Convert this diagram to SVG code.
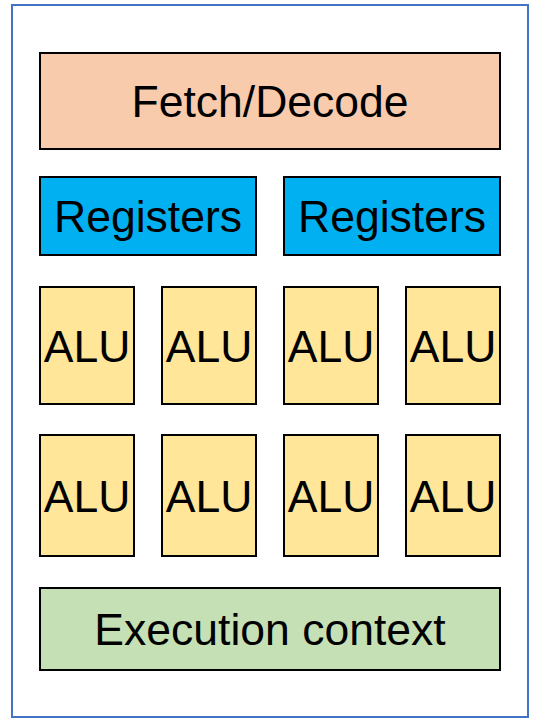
<svg xmlns="http://www.w3.org/2000/svg" width="538" height="724" viewBox="0 0 538 724">
<style>
.box{stroke:#000;stroke-width:2}
.t{font-family:"Liberation Sans",Arial,sans-serif;font-size:44.5px;fill:#000;text-anchor:middle}
.fd{fill:#F8CBAD}.rg{fill:#00B0F0}.alu{fill:#FFE699}.ex{fill:#C5E0B4}
</style>
<rect width="538" height="724" fill="#fff"/>
<g id="frame"><rect x="12" y="5" width="516" height="712" fill="#fff" stroke="#4472C4" stroke-width="2"/></g>
<g id="fetch"><rect class="box fd" x="40" y="53" width="460" height="96"/><text class="t" x="270" y="117">Fetch/Decode</text></g>
<g id="reg1"><rect class="box rg" x="40" y="177" width="216" height="78"/><text class="t" x="148" y="232">Registers</text></g>
<g id="reg2"><rect class="box rg" x="284" y="177" width="216" height="78"/><text class="t" x="392" y="232">Registers</text></g>
<g id="alu1"><rect class="box alu" x="40" y="287" width="94" height="117"/><text class="t" x="87" y="362">ALU</text></g>
<g id="alu2"><rect class="box alu" x="162" y="287" width="94" height="117"/><text class="t" x="209" y="362">ALU</text></g>
<g id="alu3"><rect class="box alu" x="284" y="287" width="94" height="117"/><text class="t" x="331" y="362">ALU</text></g>
<g id="alu4"><rect class="box alu" x="406" y="287" width="94" height="117"/><text class="t" x="453" y="362">ALU</text></g>
<g id="alu5"><rect class="box alu" x="40" y="435" width="94" height="121"/><text class="t" x="87" y="512">ALU</text></g>
<g id="alu6"><rect class="box alu" x="162" y="435" width="94" height="121"/><text class="t" x="209" y="512">ALU</text></g>
<g id="alu7"><rect class="box alu" x="284" y="435" width="94" height="121"/><text class="t" x="331" y="512">ALU</text></g>
<g id="alu8"><rect class="box alu" x="406" y="435" width="94" height="121"/><text class="t" x="453" y="512">ALU</text></g>
<g id="exec"><rect class="box ex" x="40" y="588" width="460" height="82"/><text class="t" x="270" y="645">Execution context</text></g>
<g id="connectors"/>
</svg>
